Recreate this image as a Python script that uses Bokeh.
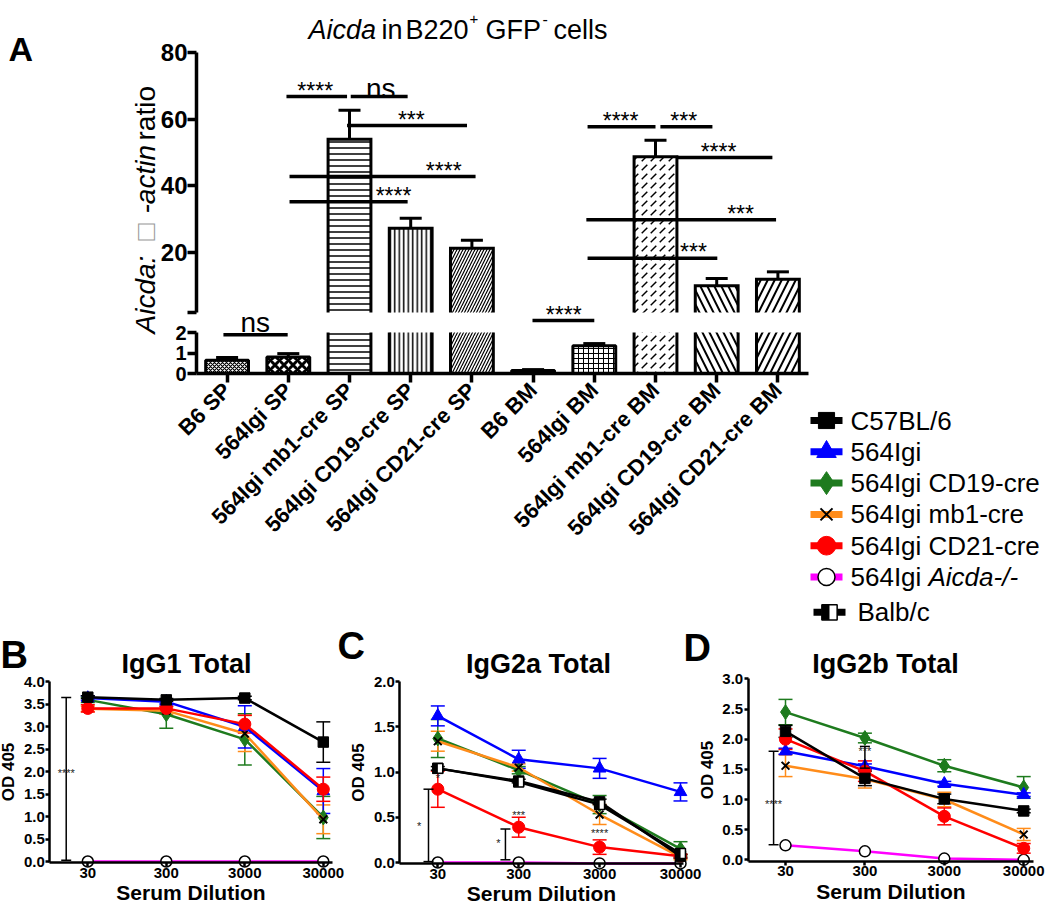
import math
from bokeh.plotting import figure
from bokeh.models import Range1d, FixedTicker, ColumnDataSource, LinearAxis, NumeralTickFormatter
from bokeh.core.properties import value
from bokeh.embed import file_html
from bokeh.resources import INLINE

FONT = "Liberation Sans"

# ---------------- Panel A data ----------------
a_groups = ["B6 SP", "564Igi SP", "564Igi mb1-cre SP", "564Igi CD19-cre SP", "564Igi CD21-cre SP",
            "B6 BM", "564Igi BM", "564Igi mb1-cre BM", "564Igi CD19-cre BM", "564Igi CD21-cre BM"]
a_mean = [0.65, 0.81, 54.0, 27.3, 21.3, 0.15, 1.35, 48.7, 10.0, 12.0]
a_sem = [0.13, 0.16, 8.7, 3.0, 2.4, 0.04, 0.11, 5.0, 2.2, 2.2]
a_upper_ticks = [2, 20, 40, 60, 80]
a_lower_ticks = [0, 1, 2]
a_break = 2.0
a_top = 80
# significance annotations (bar-index units; y < 3 uses the lower scale)
a_sig_x0 = [0.97, 2.02, 1.96, 1.02, 1.02, 5.89, 7.08, 7.34, 5.87, 5.89, -0.06, 4.99]
a_sig_x1 = [1.96, 2.95, 3.92, 4.06, 2.95, 7.00, 7.93, 8.91, 8.97, 8.01, 0.99, 6.00]
a_sig_y = [66.8, 66.8, 58.1, 42.8, 35.2, 57.7, 57.7, 48.5, 29.8, 18.3, 1.89, 2.585]
a_sig_tx = [1.44, 2.51, 3.01, 3.54, 2.72, 6.43, 7.46, 8.03, 8.39, 7.62, 0.46, 5.50]
a_sig_text = ["****", "ns", "***", "****", "****", "****", "***", "****", "***", "***", "ns", "****"]

# hatch styles per bar
a_hatch = ["x", "x", "-", "|", "/", "x", "+", ",", "\\", "/"]
a_hatch_scale = [4, 9, 6, 4.5, 6, 4, 5, 9, 14, 14]
a_hatch_weight = [1.2, 3, 1.5, 1.5, 1.2, 1, 1, 1.5, 2, 2]

# ---------------- Panels B-D data ----------------
dil_labels = ["30", "300", "3000", "30000"]
groups = ["C57BL/6", "564Igi", "564Igi CD19-cre", "564Igi mb1-cre", "564Igi CD21-cre",
          "564Igi Aicda-/-", "Balb/c"]

igg1_mean = {
    "C57BL/6": [3.66, 3.60, 3.64, 2.66],
    "564Igi": [3.64, 3.56, 3.00, 1.57],
    "564Igi CD19-cre": [3.60, 3.28, 2.72, 0.98],
    "564Igi mb1-cre": [3.40, 3.36, 2.85, 0.94],
    "564Igi CD21-cre": [3.41, 3.41, 3.06, 1.61],
    "564Igi Aicda-/-": [0.0, 0.0, 0.0, 0.0],
}
igg1_err = {
    "C57BL/6": [0.03, 0.03, 0.04, 0.45],
    "564Igi": [0.05, 0.05, 0.47, 0.50],
    "564Igi CD19-cre": [0.06, 0.31, 0.57, 0.47],
    "564Igi mb1-cre": [0.06, 0.08, 0.40, 0.32],
    "564Igi CD21-cre": [0.08, 0.05, 0.20, 0.27],
    "564Igi Aicda-/-": [0.0, 0.0, 0.0, 0.0],
}
igg2a_mean = {
    "C57BL/6": [1.04, 0.90, 0.67, 0.07],
    "564Igi": [1.62, 1.14, 1.04, 0.78],
    "564Igi CD19-cre": [1.37, 1.02, 0.64, 0.15],
    "564Igi mb1-cre": [1.34, 1.05, 0.53, 0.06],
    "564Igi CD21-cre": [0.81, 0.39, 0.17, 0.07],
    "564Igi Aicda-/-": [0.0, 0.0, -0.01, -0.01],
    "Balb/c": [1.04, 0.89, 0.64, 0.10],
}
igg2a_err = {
    "C57BL/6": [0.02, 0.02, 0.03, 0.02],
    "564Igi": [0.11, 0.10, 0.11, 0.10],
    "564Igi CD19-cre": [0.21, 0.04, 0.10, 0.08],
    "564Igi mb1-cre": [0.11, 0.04, 0.11, 0.03],
    "564Igi CD21-cre": [0.20, 0.11, 0.08, 0.02],
    "564Igi Aicda-/-": [0.0, 0.0, 0.0, 0.0],
    "Balb/c": [0.0, 0.0, 0.0, 0.0],
}
igg2b_mean = {
    "C57BL/6": [2.13, 1.35, 1.01, 0.81],
    "564Igi": [1.80, 1.55, 1.26, 1.08],
    "564Igi CD19-cre": [2.45, 2.02, 1.56, 1.20],
    "564Igi mb1-cre": [1.56, 1.34, 1.00, 0.42],
    "564Igi CD21-cre": [2.00, 1.47, 0.72, 0.19],
    "564Igi Aicda-/-": [0.24, 0.14, 0.02, 0.0],
}
igg2b_err = {
    "C57BL/6": [0.10, 0.12, 0.08, 0.03],
    "564Igi": [0.05, 0.04, 0.04, 0.03],
    "564Igi CD19-cre": [0.21, 0.08, 0.10, 0.18],
    "564Igi mb1-cre": [0.18, 0.15, 0.12, 0.10],
    "564Igi CD21-cre": [0.17, 0.17, 0.14, 0.08],
    "564Igi Aicda-/-": [0.0, 0.0, 0.0, 0.0],
}
# brackets: (x, y0, y1, text, text_x, text_y)
igg1_brackets = [(-0.275, 0.03, 3.65, "****", -0.275, 1.97)]
igg2a_brackets = [(-0.115, 0.01, 0.81, "*", -0.23, 0.40), (0.836, 0.03, 0.37, "*", 0.75, 0.22)]
igg2b_brackets = [(-0.15, 0.25, 1.80, "****", -0.15, 0.93), (1.0, 1.52, 1.88, "***", 1.0, 1.80)]
# stars on points: (x, y, text)
igg2a_stars = [(0, 0.93, "*"), (1, 0.53, "***"), (2, 0.33, "****")]

# ---------------- styles ----------------
line_color = {"C57BL/6": "black", "564Igi": "#0000FF", "564Igi CD19-cre": "#1E7B1E",
              "564Igi mb1-cre": "#FF8C1A", "564Igi CD21-cre": "#FF0000",
              "564Igi Aicda-/-": "#FF00FF", "Balb/c": "black"}
marker_of = {"C57BL/6": "square", "564Igi": "triangle", "564Igi CD19-cre": "diamond",
             "564Igi mb1-cre": "x", "564Igi CD21-cre": "circle", "564Igi Aicda-/-": "circle",
             "Balb/c": "square"}
draw_order = ["564Igi Aicda-/-", "564Igi CD19-cre", "564Igi mb1-cre", "564Igi", "564Igi CD21-cre",
              "C57BL/6", "Balb/c"]


def marker_style(g, size):
    c = line_color[g]
    if g == "564Igi mb1-cre":
        return dict(marker="x", size=size, line_color="black", line_width=2, fill_color=None)
    if g == "564Igi Aicda-/-":
        return dict(marker="circle", size=size, line_color="black", line_width=1.5, fill_color="white")
    if g == "Balb/c":
        return dict(marker="square", size=size * 0.9, line_color="black", line_width=1.5, fill_color="white")
    extra = {"triangle": 1.15, "diamond": 1.35, "circle": 1.1, "square": 0.95}[marker_of[g]]
    return dict(marker=marker_of[g], size=size * extra, line_color=c, fill_color=c, line_width=1)


def style_axis(ax, tick_size, lw=2.5, tick_out=4):
    ax.axis_line_width = lw
    ax.major_tick_line_width = lw
    ax.major_tick_out = tick_out
    ax.major_tick_in = 0
    ax.minor_tick_line_color = None
    ax.major_label_text_font = FONT
    ax.major_label_text_font_style = "bold"
    ax.major_label_text_font_size = tick_size
    ax.major_label_text_color = "black"
    ax.axis_label_text_font = FONT
    ax.axis_label_text_font_style = "bold"
    ax.axis_label_text_color = "black"


# ================= one canvas for the whole figure =================
W, H = 1050, 906
AX0 = 196.0                 # page x of the bar axis
SLOT = 61.2                 # pixels per bar slot
BRK_Y = 312.0               # page y of the upper segment's bottom (value = a_break)
UP_PPU = 260.0 / (a_top - a_break)
ZERO_Y = 373.0              # page y of value 0 on the lower segment
LOW_PPU = 20.5

p = figure(width=W, height=H, toolbar_location=None, output_backend="svg", min_border=0,
           x_range=Range1d(-0.5 - AX0 / SLOT, -0.5 + (W - AX0) / SLOT),
           y_range=Range1d(-(H - ZERO_Y) / LOW_PPU, ZERO_Y / LOW_PPU))
extra_x = {"pxx": Range1d(0, W)}
extra_y = {"up": Range1d(a_break - (H - BRK_Y) / UP_PPU, a_break + BRK_Y / UP_PPU), "pxy": Range1d(H, 0)}
p.xgrid.visible = False
p.ygrid.visible = False
p.outline_line_color = None
ax_low = p.yaxis[0]
ax_x = p.xaxis[0]
PX = dict(x_range_name="pxx", y_range_name="pxy")


def px_text(x, y, txt, size, style="normal", color="black", align="left", baseline="alphabetic", angle=0.0):
    p.text(x=[x], y=[y], text=[txt], angle=angle, text_font=value(FONT), text_font_size=size,
           text_font_style=style, text_color=color, text_align=align, text_baseline=baseline, **PX)


# ---------------- Panel A ----------------
n = len(a_groups)
xs_a = list(range(n))
half = 0.35
tall = [i for i, m in enumerate(a_mean) if m > a_break]
short = [i for i, m in enumerate(a_mean) if m <= a_break]
all_src = ColumnDataSource(dict(x=xs_a, low_top=[min(m, a_break) for m in a_mean],
                                hatch=a_hatch, hs=a_hatch_scale, hw=a_hatch_weight))
tall_src = ColumnDataSource(dict(
    x=[xs_a[i] for i in tall], mean=[a_mean[i] for i in tall],
    top=[a_mean[i] + a_sem[i] for i in tall],
    xl=[xs_a[i] - half for i in tall], xr=[xs_a[i] + half for i in tall],
    oxs=[[xs_a[i] - half, xs_a[i] - half, xs_a[i] + half, xs_a[i] + half] for i in tall],
    oys=[[a_break, a_mean[i], a_mean[i], a_break] for i in tall],
    hatch=[a_hatch[i] for i in tall], hs=[a_hatch_scale[i] for i in tall], hw=[a_hatch_weight[i] for i in tall]))
short_src = ColumnDataSource(dict(x=[xs_a[i] for i in short], mean=[a_mean[i] for i in short],
                                  top=[a_mean[i] + a_sem[i] for i in short]))

p.vbar(x="x", bottom=a_break, top="mean", width=2 * half, source=tall_src, y_range_name="up",
       fill_color="white", line_color=None, hatch_pattern="hatch", hatch_scale="hs",
       hatch_weight="hw", hatch_color="black")
p.multi_line(xs="oxs", ys="oys", source=tall_src, y_range_name="up", line_color="black",
             line_width=3, line_join="miter")
p.segment(x0="x", y0="mean", x1="x", y1="top", source=tall_src, y_range_name="up",
          line_color="black", line_width=3)
p.scatter(x="x", y="top", source=tall_src, y_range_name="up", marker="dash", size=22,
          line_color="black", line_width=3)
p.vbar(x="x", bottom=0, top="low_top", width=2 * half, source=all_src, fill_color="white",
       line_color=None, hatch_pattern="hatch", hatch_scale="hs", hatch_weight="hw", hatch_color="black")
p.vbar(x="x", bottom=0, top="mean", width=2 * half, source=short_src, fill_color=None,
       line_color="black", line_width=3)
p.segment(x0="xl", y0=0, x1="xl", y1=a_break, source=tall_src, line_color="black", line_width=3)
p.segment(x0="xr", y0=0, x1="xr", y1=a_break, source=tall_src, line_color="black", line_width=3)
p.segment(x0="x", y0="mean", x1="x", y1="top", source=short_src, line_color="black", line_width=3)
p.scatter(x="x", y="top", source=short_src, marker="dash", size=22, line_color="black", line_width=3)

for lower in (False, True):
    idx = [i for i, y in enumerate(a_sig_y) if (y < 3) == lower]
    kw = {} if lower else {"y_range_name": "up"}
    p.segment(x0=[a_sig_x0[i] for i in idx], y0=[a_sig_y[i] for i in idx],
              x1=[a_sig_x1[i] for i in idx], y1=[a_sig_y[i] for i in idx],
              line_color="black", line_width=3.5, **kw)
    ns_i = [i for i in idx if a_sig_text[i] == "ns"]
    st_i = [i for i in idx if a_sig_text[i] != "ns"]
    p.text(x=[a_sig_tx[i] for i in ns_i], y=[a_sig_y[i] for i in ns_i], text=[a_sig_text[i] for i in ns_i],
           text_font=value(FONT), text_font_size="28px", text_align="center",
           text_baseline="alphabetic", y_offset=-12 if lower else -8, **kw)
    p.text(x=[a_sig_tx[i] for i in st_i], y=[a_sig_y[i] for i in st_i], text=[a_sig_text[i] for i in st_i],
           text_font=value(FONT), text_font_size="23px", text_align="center",
           text_baseline="middle", y_offset=-6, **kw)

style_axis(ax_low, "20px", lw=3.5, tick_out=9)
ax_low.fixed_location = -0.5
ax_low.bounds = (0, a_break)
ax_low.ticker = FixedTicker(ticks=a_lower_ticks)
ax_low.major_label_standoff = 1

ax_up = LinearAxis(y_range_name="up", fixed_location=-0.5, bounds=(a_break, a_top),
                   ticker=FixedTicker(ticks=a_upper_ticks))
style_axis(ax_up, "24px", lw=3.5, tick_out=9)
ax_up.major_label_overrides = {a_upper_ticks[0]: ""}
ax_up.major_label_standoff = 0
p.add_layout(ax_up, "left")

style_axis(ax_x, "22px", lw=3.5, tick_out=9)
ax_x.fixed_location = 0
ax_x.bounds = (-0.5, n - 0.5)
ax_x.ticker = FixedTicker(ticks=xs_a)
ax_x.major_label_overrides = {i: g for i, g in zip(xs_a, a_groups)}
ax_x.major_label_orientation = math.pi / 4
ax_x.major_label_standoff = 4

# panel letter, title and y-axis title (page pixels)
px_text(8, 48, "A", "34px", "bold")
for txt, sty, x, y, sz in [("Aicda", "italic", 308, 29, "27px"), ("in", "normal", 381, 29, "27px"),
                           ("B220", "normal", 405, 29, "27px"), ("+", "normal", 469, 18, "15px"),
                           ("GFP", "normal", 485, 29, "27px"), ("-", "normal", 542, 18, "16px"),
                           ("cells", "normal", 553, 29, "27px")]:
    px_text(x, y, txt, sz, sty)
for txt, sty, col, y in [("Aicda:", "italic", "black", 333), ("\u25a1", "normal", "#9a9a9a", 240),
                         ("-actin", "italic", "black", 213), ("ratio", "normal", "black", 140)]:
    px_text(145, y, txt, "28px", sty, col, angle=math.pi / 2)

# legend for panels B-D (page pixels)
leg_y = [420 + 31.3 * i + (4 if g == "Balb/c" else 0) for i, g in enumerate(groups)]
for g, y in zip(groups, leg_y):
    x0 = 813 if g == "Balb/c" else 810
    p.segment(x0=[x0], y0=[y], x1=[x0 + 32], y1=[y], line_color=line_color[g], line_width=7, **PX)
    p.scatter(x=[x0 + 16], y=[y], **marker_style(g, 17), **PX)
    if g == "Balb/c":
        p.rect(x=[x0 + 12.25], y=[y], width=7.5, height=15.3, fill_color="black", line_color=None, **PX)
    tx = 857 if g == "Balb/c" else 850
    if g == "564Igi Aicda-/-":
        px_text(tx, y, "564Igi ", "26px", baseline="middle")
        px_text(tx + 78, y, "Aicda-/-", "26px", "italic", baseline="middle")
    else:
        px_text(tx, y, g, "26px", baseline="middle")


# ---------------- Panels B-D ----------------
def line_panel(key, axis_x, tick0_x, tick_dx, zero_y, ppu, y_end, right_x,
               title, title_x, letter, letter_x, letter_y, means, errs, brackets, stars):
    xn, yn = key + "x", key + "y"
    extra_x[xn] = Range1d(-tick0_x / tick_dx, (W - tick0_x) / tick_dx)
    extra_y[yn] = Range1d(-(H - zero_y) / ppu, zero_y / ppu)
    kw = dict(x_range_name=xn, y_range_name=yn)
    xs = list(range(len(dil_labels)))
    x_left = (axis_x - tick0_x) / tick_dx
    x_right = (right_x - tick0_x) / tick_dx
    y_bottom = -0.008 * y_end
    order = [g for g in draw_order if g in means]
    for g in order:
        c = line_color[g]
        ex = [x for x, e in zip(xs, errs[g]) if e > 0]
        lo = [m - e for m, e in zip(means[g], errs[g]) if e > 0]
        hi = [m + e for m, e in zip(means[g], errs[g]) if e > 0]
        if ex:
            p.segment(x0=ex, y0=lo, x1=ex, y1=hi, line_color=c, line_width=1.5, **kw)
            p.scatter(x=ex + ex, y=lo + hi, marker="dash", size=14, line_color=c, line_width=1.5, **kw)
    for g in order:
        p.line(x=xs, y=means[g], line_color=line_color[g], line_width=2.5, **kw)
        p.scatter(x=xs, y=means[g], **marker_style(g, 11), **kw)
        if g == "Balb/c":
            p.rect(x=[x - 0.03 for x in xs], y=means[g], width=5, height=9.9, width_units="screen",
                   height_units="screen", fill_color="black", line_color=None, **kw)
    for bx, y0, y1, txt, tx, ty in brackets:
        p.segment(x0=[bx], y0=[y0], x1=[bx], y1=[y1], line_color="black", line_width=1.5, **kw)
        p.scatter(x=[bx, bx], y=[y0, y1], marker="dash", size=10, line_color="black", line_width=1.5, **kw)
        p.text(x=[tx], y=[ty], text=[txt], text_font=value(FONT), text_font_size="11px",
               text_align="center", text_baseline="middle", text_color="#222222", **kw)
    for sx, sy, txt in stars:
        p.text(x=[sx], y=[sy], text=[txt], text_font=value(FONT), text_font_size="11px",
               text_align="center", text_baseline="middle", text_color="#222222", **kw)
    ax = LinearAxis(fixed_location=y_bottom, bounds=(x_left, x_right), ticker=FixedTicker(ticks=xs), **kw)
    style_axis(ax, "15px")
    ax.major_label_overrides = {x: d for x, d in zip(xs, dil_labels)}
    ax.axis_label = "Serum Dilution"
    ax.axis_label_text_font_size = "21px"
    ax.axis_label_standoff = 0
    ax.major_label_standoff = 1
    p.add_layout(ax, "below")
    ay = LinearAxis(fixed_location=x_left, bounds=(y_bottom, y_end),
                    ticker=FixedTicker(ticks=[round(0.5 * k, 1) for k in range(int(round(y_end / 0.5)) + 1)]),
                    **kw)
    style_axis(ay, "15px")
    ay.formatter = NumeralTickFormatter(format="0.0")
    ay.axis_label = "OD 405"
    ay.axis_label_text_font_size = "17px"
    ay.axis_label_standoff = 3
    ay.major_label_standoff = 1
    p.add_layout(ay, "left")
    px_text(title_x, 663, title, "27px", "bold", align="center", baseline="middle")
    px_text(letter_x, letter_y, letter, "38px", "bold")


line_panel("b", 49.3, 87.3, 78.5, 861.0, 44.9, 4.0, 332, "IgG1 Total", 186, "B", 0, 654,
           igg1_mean, igg1_err, igg1_brackets, [])
line_panel("c", 399.3, 437.3, 80.9, 862.0, 90.5, 2.0, 683, "IgG2a Total", 538, "C", 337, 645,
           igg2a_mean, igg2a_err, igg2a_brackets, igg2a_stars)
line_panel("d", 747.7, 785.0, 79.4, 859.3, 60.3, 3.0, 1033, "IgG2b Total", 885, "D", 683, 647,
           igg2b_mean, igg2b_err, igg2b_brackets, [])

p.extra_x_ranges = extra_x
p.extra_y_ranges = extra_y

open("out.html", "w").write(file_html(p, INLINE))
